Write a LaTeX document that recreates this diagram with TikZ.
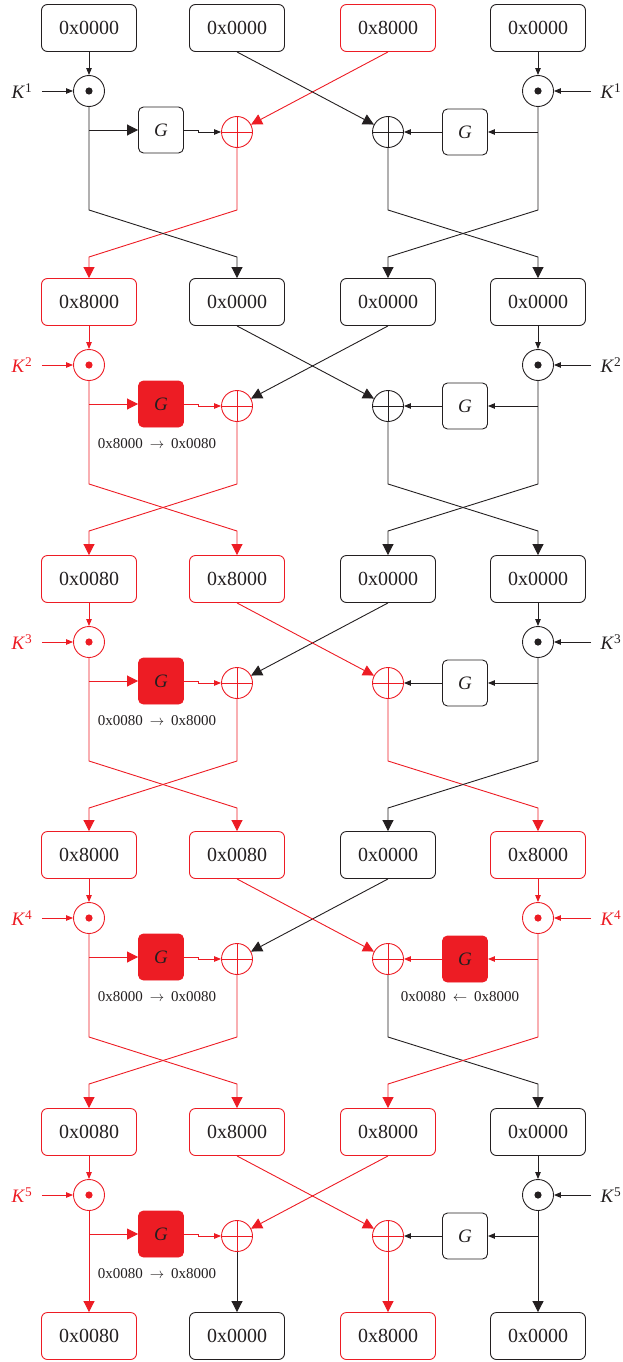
\documentclass[tikz,border=0pt]{standalone}
\usepackage{fontspec}
\setmainfont{Liberation Serif}
\usetikzlibrary{arrows.meta}
\definecolor{ink}{HTML}{231F20}
\definecolor{hot}{HTML}{ED1C24}
\begin{document}
\begin{tikzpicture}[x=1pt,y=-1pt,line width=0.9pt,ink,
    reg/.style={draw=#1,rounded corners=6pt,minimum width=95pt,minimum height=47pt,inner sep=0pt,text=ink,font=\fontsize{20}{24}\selectfont},
    reg/.default=ink,
    gfun/.style={draw=#1,rounded corners=5pt,minimum width=45pt,minimum height=46pt,inner sep=0pt,text=ink,font=\fontsize{19}{22}\selectfont\itshape},
    gfun/.default=ink,
    gact/.style={gfun=hot,fill=hot},
    mulop/.style={circle,draw=#1,minimum size=31pt,inner sep=0pt,path picture={\fill[#1] (path picture bounding box.center) circle (3.6pt);}},
    mulop/.default=ink,
    xorop/.style={circle,draw=#1,minimum size=31pt,inner sep=0pt,path picture={\draw[#1] (path picture bounding box.north) -- (path picture bounding box.south) (path picture bounding box.west) -- (path picture bounding box.east);}},
    xorop/.default=ink,
    kin/.style={text=#1,inner sep=0pt,font=\fontsize{19}{22}\selectfont},
    kin/.default=ink,
    gnote/.style={text=ink,inner sep=0pt,font=\fontsize{15}{17}\selectfont},
    bigtip/.style={-{Triangle[length=11pt,width=11pt]}},
    smalltip/.style={-{Triangle[length=7pt,width=5.5pt]}}]
    \useasboundingbox (0,0) rectangle (623,1362);
    % round 1
    \node[reg] (a1) at (89,28) {0x0000};
    \node[reg] (b1) at (237,28) {0x0000};
    \node[reg=hot] (c1) at (388,28) {0x8000};
    \node[reg] (d1) at (538,28) {0x0000};
    \node[mulop] (mL1) at (89,91) {};
    \node[mulop] (mR1) at (538,91) {};
    \node[gfun] (gL1) at (161,130) {G};
    \node[gfun] (gR1) at (465,132) {G};
    \node[xorop=hot] (xL1) at (237,132) {};
    \node[xorop] (xR1) at (388,132) {};
    \node[kin] (kL1) at (22,91) {\textit{K}\textsuperscript{1}};
    \node[kin] (kR1) at (611,91) {\textit{K}\textsuperscript{1}};
    \draw[smalltip] (a1) -- (mL1);
    \draw[smalltip,shorten <=9pt] (kL1) -- (mL1);
    \draw[bigtip] (mL1 |- gL1) -- (gL1);
    \draw[smalltip] (gL1.east) -- ++(14,0) |- (xL1);
    \draw[bigtip,hot] (c1.south) -- (xL1);
    \draw[smalltip] (d1) -- (mR1);
    \draw[smalltip,shorten <=9pt] (kR1) -- (mR1);
    \draw[smalltip] (mR1 |- gR1) -- (gR1);
    \draw[smalltip] (gR1) -- (xR1);
    \draw[bigtip] (b1.south) -- (xR1);
    %
    % round 2
    \node[reg=hot] (a2) at (89,302) {0x8000};
    \node[reg] (b2) at (237,302) {0x0000};
    \node[reg] (c2) at (388,302) {0x0000};
    \node[reg] (d2) at (538,302) {0x0000};
    \draw[bigtip,hot] (xL1) -- (237,210) -- (89,257) -- (a2);
    \draw[bigtip] (mL1) -- (89,210) -- (237,257) -- (b2);
    \draw[bigtip] (xR1) -- (388,210) -- (538,257) -- (d2);
    \draw[bigtip] (mR1) -- (538,210) -- (388,257) -- (c2);
    \node[mulop=hot] (mL2) at (89,365) {};
    \node[mulop] (mR2) at (538,365) {};
    \node[gact] (gL2) at (161,404) {G};
    \node[gfun] (gR2) at (465,406) {G};
    \node[xorop=hot] (xL2) at (237,406) {};
    \node[xorop] (xR2) at (388,406) {};
    \node[kin=hot] (kL2) at (22,365) {\textit{K}\textsuperscript{2}};
    \node[kin] (kR2) at (611,365) {\textit{K}\textsuperscript{2}};
    \node[gnote] (nL2) at (157,444) {0x8000\hspace{7pt}$\rightarrow$\hspace{7pt}0x0080};
    \draw[smalltip,hot] (a2) -- (mL2);
    \draw[smalltip,hot,shorten <=9pt] (kL2) -- (mL2);
    \draw[bigtip,hot] (mL2 |- gL2) -- (gL2);
    \draw[smalltip,hot] (gL2.east) -- ++(14,0) |- (xL2);
    \draw[bigtip] (c2.south) -- (xL2);
    \draw[smalltip] (d2) -- (mR2);
    \draw[smalltip,shorten <=9pt] (kR2) -- (mR2);
    \draw[smalltip] (mR2 |- gR2) -- (gR2);
    \draw[smalltip] (gR2) -- (xR2);
    \draw[bigtip] (b2.south) -- (xR2);
    %
    % round 3
    \node[reg=hot] (a3) at (89,579) {0x0080};
    \node[reg=hot] (b3) at (237,579) {0x8000};
    \node[reg] (c3) at (388,579) {0x0000};
    \node[reg] (d3) at (538,579) {0x0000};
    \draw[bigtip,hot] (xL2) -- (237,484) -- (89,531) -- (a3);
    \draw[bigtip,hot] (mL2) -- (89,484) -- (237,531) -- (b3);
    \draw[bigtip] (xR2) -- (388,484) -- (538,531) -- (d3);
    \draw[bigtip] (mR2) -- (538,484) -- (388,531) -- (c3);
    \node[mulop=hot] (mL3) at (89,642) {};
    \node[mulop] (mR3) at (538,642) {};
    \node[gact] (gL3) at (161,681) {G};
    \node[gfun] (gR3) at (465,683) {G};
    \node[xorop=hot] (xL3) at (237,683) {};
    \node[xorop=hot] (xR3) at (388,683) {};
    \node[kin=hot] (kL3) at (22,642) {\textit{K}\textsuperscript{3}};
    \node[kin] (kR3) at (611,642) {\textit{K}\textsuperscript{3}};
    \node[gnote] (nL3) at (157,721) {0x0080\hspace{7pt}$\rightarrow$\hspace{7pt}0x8000};
    \draw[smalltip,hot] (a3) -- (mL3);
    \draw[smalltip,hot,shorten <=9pt] (kL3) -- (mL3);
    \draw[bigtip,hot] (mL3 |- gL3) -- (gL3);
    \draw[smalltip,hot] (gL3.east) -- ++(14,0) |- (xL3);
    \draw[bigtip] (c3.south) -- (xL3);
    \draw[smalltip] (d3) -- (mR3);
    \draw[smalltip,shorten <=9pt] (kR3) -- (mR3);
    \draw[smalltip] (mR3 |- gR3) -- (gR3);
    \draw[smalltip] (gR3) -- (xR3);
    \draw[bigtip,hot] (b3.south) -- (xR3);
    %
    % round 4
    \node[reg=hot] (a4) at (89,855) {0x8000};
    \node[reg=hot] (b4) at (237,855) {0x0080};
    \node[reg] (c4) at (388,855) {0x0000};
    \node[reg=hot] (d4) at (538,855) {0x8000};
    \draw[bigtip,hot] (xL3) -- (237,761) -- (89,808) -- (a4);
    \draw[bigtip,hot] (mL3) -- (89,761) -- (237,808) -- (b4);
    \draw[bigtip,hot] (xR3) -- (388,761) -- (538,808) -- (d4);
    \draw[bigtip] (mR3) -- (538,761) -- (388,808) -- (c4);
    \node[mulop=hot] (mL4) at (89,918) {};
    \node[mulop=hot] (mR4) at (538,918) {};
    \node[gact] (gL4) at (161,957) {G};
    \node[gact] (gR4) at (465,959) {G};
    \node[xorop=hot] (xL4) at (237,959) {};
    \node[xorop=hot] (xR4) at (388,959) {};
    \node[kin=hot] (kL4) at (22,918) {\textit{K}\textsuperscript{4}};
    \node[kin=hot] (kR4) at (611,918) {\textit{K}\textsuperscript{4}};
    \node[gnote] (nL4) at (157,997) {0x8000\hspace{7pt}$\rightarrow$\hspace{7pt}0x0080};
    \node[gnote] (nR4) at (460,997) {0x0080\hspace{7pt}$\leftarrow$\hspace{7pt}0x8000};
    \draw[smalltip,hot] (a4) -- (mL4);
    \draw[smalltip,hot,shorten <=9pt] (kL4) -- (mL4);
    \draw[bigtip,hot] (mL4 |- gL4) -- (gL4);
    \draw[smalltip,hot] (gL4.east) -- ++(14,0) |- (xL4);
    \draw[bigtip] (c4.south) -- (xL4);
    \draw[smalltip,hot] (d4) -- (mR4);
    \draw[smalltip,hot,shorten <=9pt] (kR4) -- (mR4);
    \draw[smalltip,hot] (mR4 |- gR4) -- (gR4);
    \draw[smalltip,hot] (gR4) -- (xR4);
    \draw[bigtip,hot] (b4.south) -- (xR4);
    %
    % round 5, no swap
    \node[reg=hot] (a5) at (89,1132) {0x0080};
    \node[reg=hot] (b5) at (237,1132) {0x8000};
    \node[reg=hot] (c5) at (388,1132) {0x8000};
    \node[reg] (d5) at (538,1132) {0x0000};
    \draw[bigtip,hot] (xL4) -- (237,1037) -- (89,1084) -- (a5);
    \draw[bigtip,hot] (mL4) -- (89,1037) -- (237,1084) -- (b5);
    \draw[bigtip] (xR4) -- (388,1037) -- (538,1084) -- (d5);
    \draw[bigtip,hot] (mR4) -- (538,1037) -- (388,1084) -- (c5);
    \node[mulop=hot] (mL5) at (89,1195) {};
    \node[mulop] (mR5) at (538,1195) {};
    \node[gact] (gL5) at (161,1234) {G};
    \node[gfun] (gR5) at (465,1236) {G};
    \node[xorop=hot] (xL5) at (237,1236) {};
    \node[xorop=hot] (xR5) at (388,1236) {};
    \node[kin=hot] (kL5) at (22,1195) {\textit{K}\textsuperscript{5}};
    \node[kin] (kR5) at (611,1195) {\textit{K}\textsuperscript{5}};
    \node[gnote] (nL5) at (157,1274) {0x0080\hspace{7pt}$\rightarrow$\hspace{7pt}0x8000};
    \draw[smalltip,hot] (a5) -- (mL5);
    \draw[smalltip,hot,shorten <=9pt] (kL5) -- (mL5);
    \draw[bigtip,hot] (mL5 |- gL5) -- (gL5);
    \draw[smalltip,hot] (gL5.east) -- ++(14,0) |- (xL5);
    \draw[bigtip,hot] (c5.south) -- (xL5);
    \draw[smalltip] (d5) -- (mR5);
    \draw[smalltip,shorten <=9pt] (kR5) -- (mR5);
    \draw[smalltip] (mR5 |- gR5) -- (gR5);
    \draw[smalltip] (gR5) -- (xR5);
    \draw[bigtip,hot] (b5.south) -- (xR5);
    %
    % output
    \node[reg=hot] (a6) at (89,1336) {0x0080};
    \node[reg] (b6) at (237,1336) {0x0000};
    \node[reg=hot] (c6) at (388,1336) {0x8000};
    \node[reg] (d6) at (538,1336) {0x0000};
    \draw[bigtip,hot] (mL5) -- (a6);
    \draw[bigtip] (xL5) -- (b6);
    \draw[bigtip,hot] (xR5) -- (c6);
    \draw[bigtip] (mR5) -- (d6);
\end{tikzpicture}
\end{document}
